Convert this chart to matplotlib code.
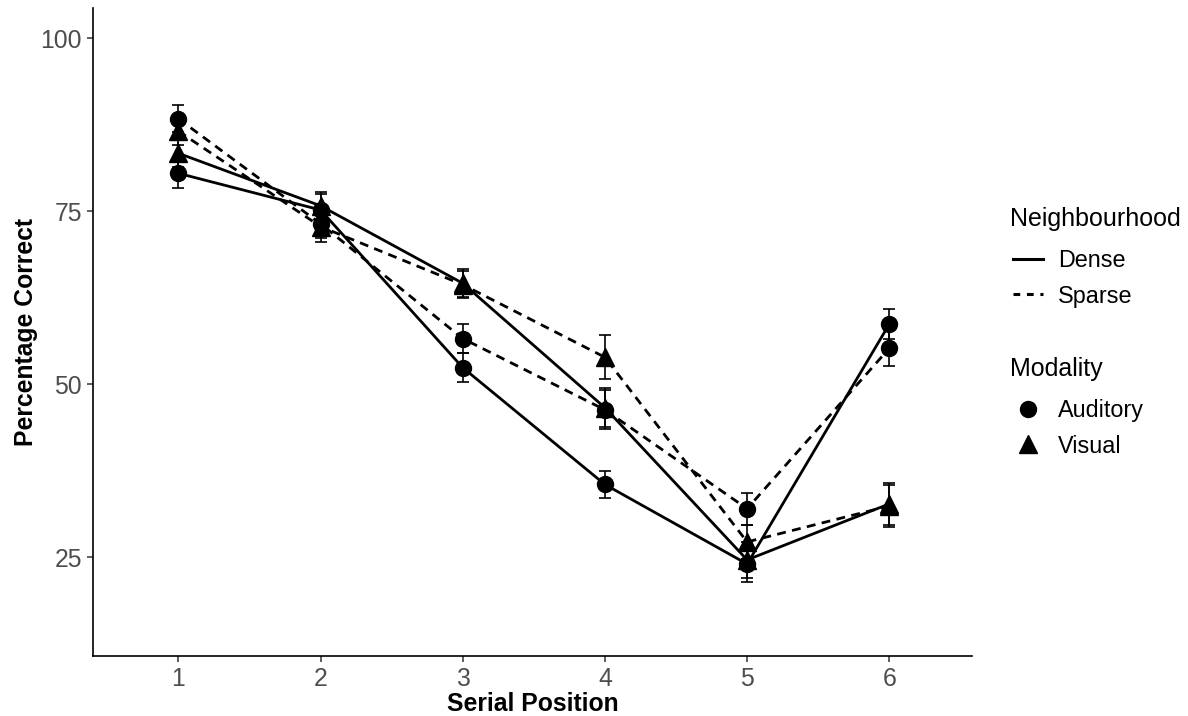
import matplotlib

matplotlib.use("Agg")
import matplotlib.pyplot as plt
from matplotlib.lines import Line2D

plt.rcParams["font.family"] = ["Liberation Sans", "DejaVu Sans"]

positions = [1, 2, 3, 4, 5, 6]

dense_auditory = [80.5, 75.2, 52.4, 35.5, 24.0, 58.7]
dense_auditory_se = [2.1, 2.3, 2.1, 2.0, 2.6, 2.2]
dense_visual = [83.4, 75.8, 64.6, 46.6, 24.6, 32.7]
dense_visual_se = [2.0, 2.0, 2.0, 2.8, 2.6, 3.0]
sparse_auditory = [88.4, 73.2, 56.6, 46.3, 32.0, 55.2]
sparse_auditory_se = [2.0, 2.1, 2.1, 2.8, 2.3, 2.6]
sparse_visual = [86.6, 72.8, 64.4, 53.9, 27.2, 32.4]
sparse_visual_se = [2.0, 2.2, 2.0, 3.2, 2.5, 3.0]

y_ticks = [25, 50, 75, 100]

series = [
    (dense_auditory, dense_auditory_se, "-", "o"),
    (dense_visual, dense_visual_se, "-", "^"),
    (sparse_auditory, sparse_auditory_se, "--", "o"),
    (sparse_visual, sparse_visual_se, "--", "^"),
]

fig = plt.figure(figsize=(11.88, 7.16), dpi=100)
ax = fig.add_axes([0.0783, 0.0838, 0.7397, 0.905])

for vals, se, ls, mk in series:
    ax.plot(positions, vals, color="black", lw=2.0, ls=ls,
            dashes=(3.2, 2.3) if ls == "--" else (None, None), zorder=2)
    ax.errorbar(positions, vals, yerr=se, fmt="none", ecolor="black",
                elinewidth=1.2, capsize=4.5, capthick=1.2, zorder=3)
    ax.plot(positions, vals, ls="none", marker=mk, color="black",
            markersize=11.5 if mk == "o" else 12.5, zorder=4)

ax.set_xlim(0.40, 6.58)
ax.set_ylim(10.7, 104.4)
ax.set_xticks(positions)
ax.set_yticks(y_ticks)
ax.tick_params(labelsize=17.8, labelcolor="#4D4D4D", color="#333333",
               length=4, width=1.1, pad=4)
for side in ("top", "right"):
    ax.spines[side].set_visible(False)
for side in ("left", "bottom"):
    ax.spines[side].set_linewidth(1.2)
ax.set_xlabel("Serial Position", fontsize=17.8, fontweight="bold", labelpad=1)
ax.set_ylabel("Percentage Correct", fontsize=17.8, fontweight="bold", labelpad=2)

# legend titles as plain text so the gap to the keys matches
fig.text(1010 / 1188, 1 - 219 / 716, "Neighbourhood", fontsize=18, va="center")
fig.text(1010 / 1188, 1 - 369 / 716, "Modality", fontsize=18, va="center")

legend_kw = dict(loc="upper left", frameon=False, fontsize=16.8,
                 handlelength=1.29, handletextpad=0.64, labelspacing=0.54,
                 borderaxespad=0, borderpad=0)

neigh_handles = [
    Line2D([], [], color="black", lw=2.2, ls="-"),
    Line2D([], [], color="black", lw=2.2, ls="--", dashes=(2.2, 2.2)),
]
fig.legend(neigh_handles, ["Dense", "Sparse"],
           bbox_to_anchor=(1013 / 1188, 1 - 249 / 716), **legend_kw)

mod_handles = [
    Line2D([], [], color="black", ls="none", marker="o", markersize=11.5),
    Line2D([], [], color="black", ls="none", marker="^", markersize=12.5),
]
fig.legend(mod_handles, ["Auditory", "Visual"],
           bbox_to_anchor=(1013 / 1188, 1 - 399 / 716), **legend_kw)

fig.savefig("out.png", dpi=100)
